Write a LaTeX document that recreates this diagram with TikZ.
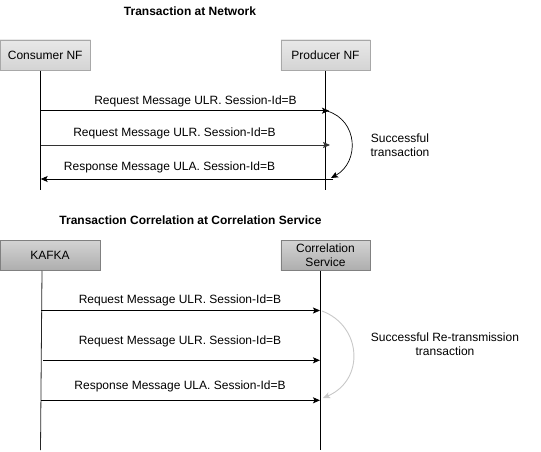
\documentclass[tikz,border=0pt]{standalone}
\usepackage{fontspec}
\setmainfont{Liberation Sans}
\usetikzlibrary{arrows.meta}
\definecolor{boxlinetop}{HTML}{A8A8A8}
\definecolor{boxlinebot}{HTML}{808080}
\definecolor{curvegray}{HTML}{C8C8C8}
\begin{document}
\begin{tikzpicture}[x=1pt,y=-1pt,
  every node/.style={font=\fontsize{12}{14}\selectfont, inner sep=0pt},
  titletext/.style={font=\fontsize{12}{14}\selectfont\bfseries},
  lightbox/.style={draw=boxlinetop, top color=white!82!gray, bottom color=white!66!gray, minimum height=30.5pt, align=center},
  darkbox/.style={draw=boxlinebot, top color=white!66!gray, bottom color=white!36!gray, minimum height=30.5pt, align=center},
  lifeline/.style={draw=black, line width=0.8pt},
  msg/.style={draw=black, line width=0.8pt, -{Stealth[length=7pt,width=6pt,inset=1.5pt]}},
  msggray/.style={draw=black!80, line width=0.8pt, -{Stealth[length=7pt,width=6pt,inset=1.5pt]}},
  loopblack/.style={draw=black, line width=0.7pt, -{Stealth[length=7pt,width=6pt,inset=1.5pt]}},
  loopgray/.style={draw=curvegray, line width=0.9pt, -{Stealth[length=7pt,width=6pt,inset=1.5pt]}}]
\useasboundingbox (0,0) rectangle (541,452);

% ---------- top section ----------
\node[titletext] (t1) at (190,11) {Transaction at Network};
\node[lightbox, minimum width=90.5pt] (cons) at (45.25,55.2) {Consumer NF};
\node[lightbox, minimum width=89.5pt] (prod) at (325.5,55.2) {Producer NF};

\coordinate (consEnd) at (40.7,190);
\coordinate (prodEnd) at (325.7,190);
\draw[lifeline] (cons.south -| consEnd) -- (consEnd);
\draw[lifeline] (prod.south -| prodEnd) -- (prodEnd);

\coordinate (a1s) at (40.7,110.7);
\coordinate (a1e) at (329,110.7);
\coordinate (a2s) at (40.7,145);
\coordinate (a2e) at (330,145);
\coordinate (a3s) at (333,179);
\coordinate (a3e) at (40.7,179);
\draw[msg] (a1s) -- (a1e);
\draw[msggray] (a2s) -- (a2e);
\draw[msg] (a3s) -- (a3e);
\node (l1) at (195.5,101.5) {Request Message ULR. Session-Id=B};
\node (l2) at (174.5,133) {Request Message ULR. Session-Id=B};
\node (l3) at (169.5,167) {Response Message ULA. Session-Id=B};

\coordinate (c1s) at (327,111);
\coordinate (c1e) at (331,178);
\draw[loopblack] (c1s) .. controls (358,120) and (360,162) .. (c1e);
\node[align=center] (s1) at (400,145) {Successful\\transaction};

% ---------- bottom section ----------
\node[titletext] (t2) at (190.5,220) {Transaction Correlation at Correlation Service};
\node[darkbox, minimum width=100pt] (kafka) at (50,255.3) {KAFKA};
\node[darkbox, minimum width=89.5pt] (corr) at (325.5,255.3) {Correlation\\Service};

\coordinate (kafEnd) at (40.5,450);
\coordinate (corrEnd) at (320.7,450);
\draw[lifeline, draw=black!85] (kafka.south -| 42,0) -- (kafEnd);
\draw[lifeline] (corr.south -| corrEnd) -- (corrEnd);

\coordinate (b1s) at (41,310.5);
\coordinate (b1e) at (320,310.5);
\coordinate (b2s) at (43,360.3);
\coordinate (b2e) at (320,360.3);
\coordinate (b3s) at (40.5,400.3);
\coordinate (b3e) at (320,400.3);
\draw[msg] (b1s) -- (b1e);
\draw[msg] (b2s) -- (b2e);
\draw[msg] (b3s) -- (b3e);
\node (m1) at (180,300.7) {Request Message ULR. Session-Id=B};
\node (m2) at (180,341) {Request Message ULR. Session-Id=B};
\node (m3) at (180,386) {Response Message ULA. Session-Id=B};

\coordinate (c2s) at (322,311);
\coordinate (c2e) at (323,398);
\draw[loopgray] (c2s) .. controls (362,326) and (365,380) .. (c2e);
\node[align=center] (s2) at (445,344.5) {Successful Re-transmission\\transaction};
\end{tikzpicture}
\end{document}
